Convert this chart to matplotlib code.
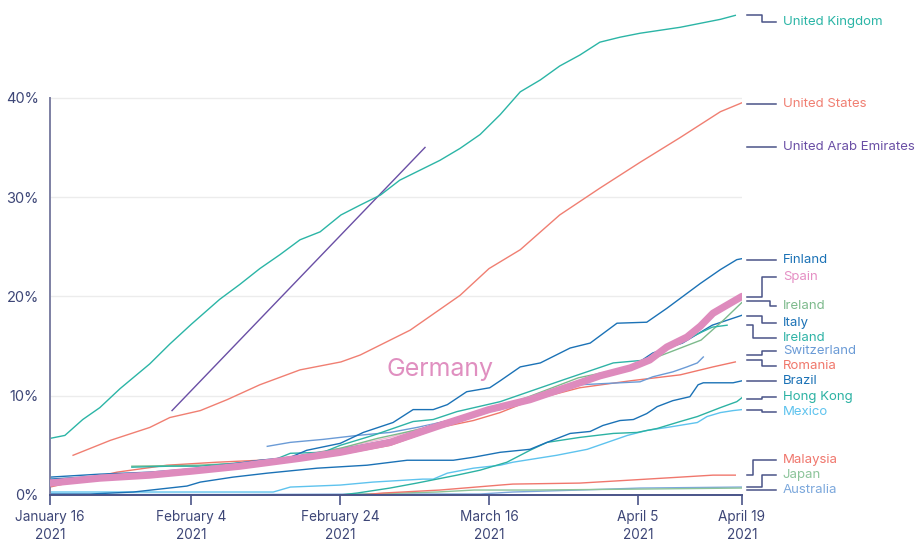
import matplotlib
matplotlib.use("Agg")
import matplotlib.pyplot as plt
import matplotlib.transforms as mtransforms
import pandas as pd

plt.rcParams["font.family"] = ["Inter", "DejaVu Sans"]

START = pd.Timestamp("2021-01-16")
END_DAY = 93  # April 19

# share of population (%) by days since Jan 16, 2021
uk_days = [0, 2, 4.4, 6.7, 9.4, 13.4, 16.1, 19, 22.8, 25.5, 28.2, 30.9, 33.6, 36.3, 39.1, 41.7,
           44.4, 47, 49.7, 52.4, 55.1, 57.8, 60.5, 63.2, 65.9, 68.5, 71.2, 73.9, 76.6, 79.3,
           82, 84.7, 87.4, 90.1, 92.1]
uk_vals = [5.7, 6.0, 7.6, 8.8, 10.7, 13.2, 15.2, 17.2, 19.7, 21.2, 22.8, 24.2, 25.7, 26.5, 28.2, 29.2,
           30.2, 31.7, 32.7, 33.7, 34.9, 36.3, 38.3, 40.6, 41.8, 43.2, 44.3, 45.6, 46.1, 46.5,
           46.8, 47.1, 47.5, 47.9, 48.3]

us_days = [3.1, 8.1, 13.4, 16.1, 20.2, 23.8, 28.2, 33.6, 39.1, 41.7, 48.4, 55.1, 59, 63.2, 68.5,
           73.9, 79.3, 84.7, 90.1, 93]
us_vals = [4.0, 5.5, 6.8, 7.8, 8.5, 9.6, 11.1, 12.6, 13.4, 14.1, 16.6, 20.1, 22.8, 24.7, 28.2,
           30.9, 33.5, 36.0, 38.6, 39.5]

uae_days = [16.4, 50.4]
uae_vals = [8.5, 35.0]

finland_days = [0, 6.7, 13.4, 20.2, 28.2, 32.3, 34.5, 39, 42.1, 46.1, 48.8, 51.5, 53.4, 56, 59.1,
                60.5, 63.2, 65.9, 69.9, 72.6, 76.2, 80.2, 82.9, 84.7, 87.4, 90.1, 92.3, 93]
finland_vals = [1.8, 2.1, 2.3, 2.7, 3.5, 3.8, 4.5, 5.2, 6.3, 7.3, 8.6, 8.6, 9.1, 10.4, 10.8,
                11.5, 12.9, 13.3, 14.8, 15.3, 17.3, 17.4, 18.8, 19.8, 21.3, 22.7, 23.7, 23.8]

germany_days = [0, 6.7, 13.4, 19, 25.5, 33.6, 39, 45.7, 52.4, 59, 64.5, 71.2, 73.9, 78, 80.6,
                82.9, 85.6, 87.4, 89.1, 90.7, 93]
germany_vals = [1.2, 1.7, 2.0, 2.4, 2.9, 3.7, 4.3, 5.3, 7.0, 8.6, 9.6, 11.3, 12.0, 12.8, 13.6,
                14.9, 15.9, 17.0, 18.3, 19.0, 20.0]

spain_days = [0, 6.7, 13.4, 19, 25.5, 33.6, 39, 45.7, 52.4, 59, 64.5, 71.2, 78, 80.6, 83.3,
              86, 89.1, 93]
spain_vals = [1.4, 1.9, 2.2, 2.6, 3.1, 4.0, 4.7, 5.8, 7.3, 8.6, 9.8, 11.4, 12.9, 13.8, 15.0,
              16.0, 18.2, 20.0]

ireland_g_days = [11, 20, 28, 34, 39, 44, 52, 59, 64, 71, 78, 83, 87.5, 90.5, 93]
ireland_g_vals = [2.9, 3.0, 3.3, 4.0, 4.7, 5.7, 7.0, 8.5, 9.8, 11.8, 12.9, 14.3, 15.6, 17.6, 19.4]

italy_days = [0, 6.7, 13.4, 20, 28, 34, 39, 46, 52, 59, 65, 72, 78, 81, 85, 89, 93]
italy_vals = [1.6, 1.9, 2.1, 2.6, 3.2, 4.0, 4.6, 5.6, 7.2, 8.6, 9.8, 11.5, 12.8, 14.3, 15.3,
              17.1, 18.1]

ireland_t_days = [11, 16, 20, 25, 30, 32.3, 36.7, 39, 43.4, 48.8, 51.5, 54.7, 60.5, 69, 75.7,
                  80.2, 82, 84.7, 89, 91]
ireland_t_vals = [2.8, 2.9, 2.9, 3.2, 3.5, 4.2, 4.3, 5.0, 6.0, 7.4, 7.6, 8.4, 9.4, 11.6, 13.3,
                  13.6, 14.6, 15.4, 16.9, 17.1]

swiss_days = [29.2, 32.3, 36.7, 41.3, 45.7, 49.3, 52.4, 56.9, 60.5, 64.5, 69, 71.2, 79.3, 81,
              83.7, 85.6, 87, 87.8]
swiss_vals = [4.9, 5.3, 5.6, 6.0, 6.3, 6.8, 7.3, 8.1, 8.6, 9.6, 10.6, 11.1, 11.4, 11.9,
              12.4, 12.9, 13.3, 13.9]

romania_days = [0, 9, 15.7, 22.4, 28.2, 33.6, 39.1, 45.7, 52.4, 56.9, 60.5, 64.5, 71.2, 78,
                84.7, 89.1, 92.1]
romania_vals = [0.8, 2.3, 3.0, 3.3, 3.5, 3.7, 4.1, 5.0, 6.8, 7.5, 8.3, 9.5, 10.8, 11.5,
                12.1, 12.9, 13.4]

brazil_days = [0, 5.4, 11.2, 18.4, 20.2, 24.6, 29.2, 35.9, 42.6, 48, 54.2, 56.9, 60.5, 64.5,
               66.8, 69.9, 72.6, 74.3, 76.6, 78.4, 80.2, 81.6, 83.7, 86, 87.1, 87.8, 91.8, 93]
brazil_vals = [0.1, 0.1, 0.3, 0.9, 1.3, 1.8, 2.2, 2.7, 3.0, 3.5, 3.5, 3.8, 4.3, 4.6,
               5.3, 6.2, 6.4, 7.0, 7.5, 7.6, 8.2, 8.9, 9.5, 9.9, 11.1, 11.3, 11.3, 11.5]

hongkong_days = [39, 41.3, 45.7, 49.3, 54.7, 57.8, 61.4, 64.5, 66.8, 71.2, 75.7, 78.9, 81.6,
                 84.7, 87, 90.1, 92.3, 93]
hongkong_vals = [0.0, 0.2, 0.7, 1.2, 2.0, 2.5, 3.3, 4.5, 5.3, 5.8, 6.2, 6.3, 6.7,
                 7.4, 7.9, 8.8, 9.4, 9.8]

mexico_days = [0, 30, 32.3, 39, 43.4, 50.1, 51.5, 53.4, 56.9, 60.5, 62.2, 68.1, 72.2, 74.9,
               77.6, 80.2, 82.9, 87, 88.3, 90.1, 91.8, 93]
mexico_vals = [0.3, 0.3, 0.8, 1.0, 1.3, 1.6, 1.6, 2.2, 2.7, 3.0, 3.3, 4.0, 4.6, 5.3,
               6.0, 6.5, 6.8, 7.3, 7.9, 8.3, 8.5, 8.6]

malaysia_days = [41.7, 44.8, 52.4, 60.5, 62.2, 71.2, 78, 84.7, 89.1, 92.1]
malaysia_vals = [0.0, 0.2, 0.5, 1.0, 1.1, 1.2, 1.5, 1.8, 2.0, 2.0]

japan_days = [40, 52, 57, 65, 80, 93]
japan_vals = [0.05, 0.3, 0.5, 0.5, 0.6, 0.7]

australia_days = [0, 25, 45, 57.8, 62.2, 71.2, 79.3, 93]
australia_vals = [0.05, 0.05, 0.1, 0.1, 0.3, 0.5, 0.7, 0.8]

tick_days = [0, 19, 39, 59, 79, 93]
tick_labels = ["January 16\n2021", "February 4\n2021", "February 24\n2021",
               "March 16\n2021", "April 5\n2021", "April 19\n2021"]

NAVY = "#3d4677"
CONN = "#4a5488"
DARK_BLUE = "#1b72b6"

# name, days, values, line colour
series = [
    ("Australia", australia_days, australia_vals, "#7ca8dc"),
    ("Japan", japan_days, japan_vals, "#8cc49a"),
    ("Malaysia", malaysia_days, malaysia_vals, "#f0776d"),
    ("Mexico", mexico_days, mexico_vals, "#5ec3ee"),
    ("Hong Kong", hongkong_days, hongkong_vals, "#2cb2a3"),
    ("Brazil", brazil_days, brazil_vals, DARK_BLUE),
    ("Romania", romania_days, romania_vals, "#f0776b"),
    ("Switzerland", swiss_days, swiss_vals, "#6b9bd6"),
    ("Spain", spain_days, spain_vals, "#f4b9d5"),
    ("Italy", italy_days, italy_vals, DARK_BLUE),
    ("Ireland", ireland_g_days, ireland_g_vals, "#7dba8c"),
    ("Ireland", ireland_t_days, ireland_t_vals, "#2fb3a6"),
    ("Finland", finland_days, finland_vals, DARK_BLUE),
    ("United Arab Emirates", uae_days, uae_vals, "#6a4fa5"),
    ("United States", us_days, us_vals, "#f07f72"),
    ("United Kingdom", uk_days, uk_vals, "#2bb5a6"),
]

# right-hand labels: text, line end y, text y, knee (axes fraction), text colour
labels = [
    ("United Kingdom", 48.3, 47.6, 1.029, "#2bb5a6"),
    ("United States", 39.4, 39.4, 1.029, "#f07f72"),
    ("United Arab Emirates", 35.0, 35.0, 1.029, "#6a4fa5"),
    ("Finland", 23.7, 23.7, 1.029, DARK_BLUE),
    ("Spain", 19.9, 22.0, 1.029, "#e58fc4"),
    ("Ireland", 19.5, 19.0, 1.041, "#7dba8c"),
    ("Italy", 18.0, 17.3, 1.029, DARK_BLUE),
    ("Ireland", 17.1, 15.8, 1.016, "#2fb3a6"),
    ("Switzerland", 14.1, 14.5, 1.029, "#6b9bd6"),
    ("Romania", 13.6, 13.0, 1.029, "#f0776b"),
    ("Brazil", 11.5, 11.5, 1.029, DARK_BLUE),
    ("Hong Kong", 9.7, 9.9, 1.029, "#2cb2a3"),
    ("Mexico", 8.6, 8.4, 1.029, "#5ec3ee"),
    ("Malaysia", 2.0, 3.5, 1.016, "#f0776d"),
    ("Japan", 0.8, 2.0, 1.029, "#8cc49a"),
    ("Australia", 0.5, 0.5, 1.029, "#7ca8dc"),
]


def to_dates(days):
    return START + pd.to_timedelta(days, unit="D")


fig = plt.figure(figsize=(9.22, 5.44), dpi=100)
ax = fig.add_axes([50 / 922, 49 / 544, 692 / 922, 485 / 544])

for g in [10, 20, 30, 40]:
    ax.axhline(g, color="#ececec", lw=1.0, zorder=0)

for name, d, v, c in series:
    ax.plot(to_dates(d), v, color=c, lw=1.0, zorder=2)

ax.plot(to_dates(germany_days), germany_vals, color="#de8bbd", lw=5.2,
        solid_capstyle="round", zorder=3)
ax.text(to_dates([52.4])[0], 12.6, "Germany", color="#e08fc0", fontsize=18,
        ha="center", va="center", zorder=4)

ax.set_xlim(START, to_dates([END_DAY])[0])
ax.set_ylim(0, 48.84)

ax.set_xticks(to_dates(tick_days))
ax.set_xticklabels(tick_labels, fontsize=9.8, color=NAVY, linespacing=1.3)
ax.set_yticks([0, 10, 20, 30, 40])
ax.set_yticklabels(["0%", "10%", "20%", "30%", "40%"], fontsize=10.5, color=NAVY)
ax.tick_params(axis="x", length=7, width=1.2, color=CONN, pad=4)
ax.tick_params(axis="y", length=0, pad=8)

for s in ["top", "right"]:
    ax.spines[s].set_visible(False)
ax.spines["left"].set_bounds(0, 40)
ax.spines["left"].set_color("#7d80a3")
ax.spines["left"].set_linewidth(1.4)
ax.spines["bottom"].set_color(CONN)
ax.spines["bottom"].set_linewidth(1.4)

trans = mtransforms.blended_transform_factory(ax.transAxes, ax.transData)
for text, y_line, y_text, knee, col in labels:
    ax.plot([1.0072, knee, knee, 1.049], [y_line, y_line, y_text, y_text],
            color=CONN, lw=1.1, transform=trans, clip_on=False)
    ax.text(1.059, y_text, text, color=col, fontsize=9.5, va="center", ha="left",
            transform=trans)

fig.savefig("out.png", dpi=100)
